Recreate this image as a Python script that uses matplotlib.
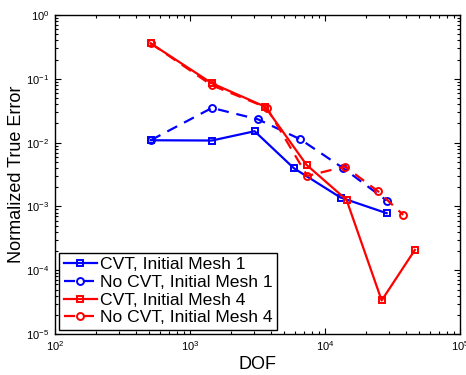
import matplotlib
matplotlib.use("Agg")
import matplotlib.pyplot as plt
from matplotlib.ticker import LogLocator, NullFormatter

plt.rcParams['font.family'] = ['Liberation Sans', 'DejaVu Sans']
plt.rcParams['mathtext.default'] = 'regular'

# Degrees of freedom and normalized errors for each refinement run
dof_cvt1 = [511, 1455, 3013, 5890, 13060, 28650]
err_cvt1 = [0.0109, 0.0108, 0.0151, 0.00397, 0.00138, 0.000785]

dof_nocvt1 = [511, 1455, 3192, 6560, 13680, 28650]
err_nocvt1 = [0.0109, 0.035, 0.0232, 0.0113, 0.00397, 0.00124]

dof_cvt4 = [511, 1455, 3594, 7310, 14450, 26300, 46400]
err_cvt4 = [0.36, 0.085, 0.0367, 0.00448, 0.00127, 3.37e-5, 2.09e-4]

dof_nocvt4 = [511, 1455, 3700, 7400, 14060, 24550, 38000]
err_nocvt4 = [0.36, 0.079, 0.0354, 0.00301, 0.00422, 0.00175, 0.000738]

labels = ["CVT, Initial Mesh 1", "No CVT, Initial Mesh 1",
          "CVT, Initial Mesh 4", "No CVT, Initial Mesh 4"]

fig = plt.figure(figsize=(4.66, 3.75), dpi=100)
ax = fig.add_axes([0.118, 0.109, 0.869, 0.851])

lw = 1.6
dash = (0, (5, 3.5))
ax.plot(dof_cvt1, err_cvt1, color='#0000ff', lw=lw, marker='s', ms=4.5,
        mfc='none', mew=1.4, label=labels[0])
ax.plot(dof_nocvt1, err_nocvt1, color='#0000ff', lw=lw, ls=dash, marker='o',
        ms=5, mfc='none', mew=1.4, label=labels[1])
ax.plot(dof_cvt4, err_cvt4, color='#ff0000', lw=lw, marker='s', ms=4.5,
        mfc='none', mew=1.4, label=labels[2])
ax.plot(dof_nocvt4, err_nocvt4, color='#ff0000', lw=lw, ls=dash, marker='o',
        ms=5, mfc='none', mew=1.4, label=labels[3])

ax.set_xscale('log')
ax.set_yscale('log')
ax.set_xlim(1e2, 1e5)
ax.set_ylim(1e-5, 1e0)

ax.xaxis.set_major_locator(LogLocator(base=10, numticks=10))
ax.yaxis.set_major_locator(LogLocator(base=10, numticks=10))
ax.xaxis.set_minor_locator(LogLocator(base=10, subs=range(2, 10), numticks=20))
ax.yaxis.set_minor_locator(LogLocator(base=10, subs=range(2, 10), numticks=20))
ax.xaxis.set_minor_formatter(NullFormatter())
ax.yaxis.set_minor_formatter(NullFormatter())

ax.tick_params(which='both', direction='in', top=True, right=True,
               labelsize=8, width=0.8, pad=4)
ax.tick_params(which='major', length=4.5)
ax.tick_params(which='minor', length=2.5)
for s in ax.spines.values():
    s.set_linewidth(1.0)

ax.set_xlabel('DOF', fontsize=13, labelpad=2)
ax.set_ylabel('Normalized True Error', fontsize=13, labelpad=1)

leg = ax.legend(loc='lower left', fontsize=12.6, frameon=True, fancybox=False,
                edgecolor='black', framealpha=1, borderaxespad=0.25,
                handlelength=1.9, handletextpad=0.15, borderpad=0.25,
                labelspacing=0.14)
leg.get_frame().set_linewidth(1.0)

fig.savefig('out.png', dpi=100)
